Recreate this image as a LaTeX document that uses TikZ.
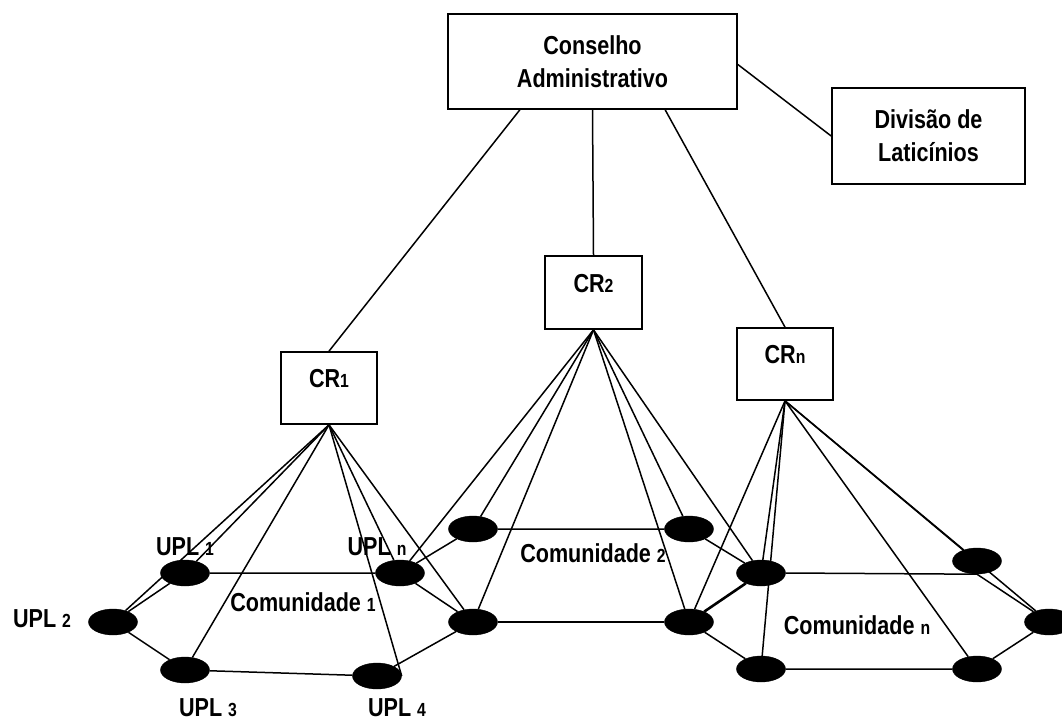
\documentclass[tikz,border=0pt]{standalone}
\usepackage{fontspec}
\setmainfont{Liberation Sans}[FakeStretch=0.83]
\usetikzlibrary{shapes.geometric,calc}
\newcommand\smalldigit[1]{{\fontsize{19}{19}\selectfont #1}}
\begin{document}
\begin{tikzpicture}[x=1pt,y=-1pt,
  box/.style={draw,line width=1.7pt,rectangle,inner sep=0pt},
  upl/.style={ellipse,fill=black,draw=black,minimum width=49pt,minimum height=26pt,inner sep=0pt},
  lnk/.style={line width=1.5pt},
  txt/.style={font=\bfseries\fontsize{26}{33}\selectfont,inner sep=0pt,align=center},
]
\useasboundingbox (0,0) rectangle (1062,722);

% management boxes
\node[box,txt,minimum width=289pt,minimum height=95pt] (cons) at (592.5,61.5) {Conselho\\Administrativo};
\node[box,txt,minimum width=193pt,minimum height=96pt] (div) at (928.5,136) {Divisão de\\Laticínios};
\node[box,minimum width=96pt,minimum height=72pt,label={[txt,yshift=9pt]center:CR\smalldigit{1}}] (cr1) at (329,388) {};
\node[box,minimum width=97pt,minimum height=73pt,label={[txt,yshift=9pt]center:CR\smalldigit{2}}] (cr2) at (593.5,292.5) {};
\node[box,minimum width=96pt,minimum height=72pt,label={[txt,yshift=9pt]center:CR\smalldigit{n}}] (crn) at (785,364) {};

\draw[lnk] ([yshift=-3pt]cons.east) -- (div.west);
\draw[lnk] ($(cons.south west)!0.25!(cons.south east)$) -- (cr1.north);
\draw[lnk] (cons.south) -- (cr2.north);
\draw[lnk] ($(cons.south west)!0.75!(cons.south east)$) -- (crn.north);

% production units
\node[upl] (u1) at (185,573) {};
\node[upl] (u2) at (113,622) {};
\node[upl] (u3) at (185,670) {};
\node[upl] (u4) at (377,676) {};
\node[upl] (un) at (400,573) {};
\node[upl] (r1) at (473,622) {};
\node[upl] (t2l) at (473,529) {};
\node[upl] (t2r) at (689,529) {};
\node[upl] (b2r) at (689,622) {};
\node[upl] (rn) at (761,573) {};
\node[upl] (tnr) at (977,561) {};
\node[upl] (rr) at (1049,622) {};
\node[upl] (bnr) at (977,669) {};
\node[upl] (bnl) at (761,669) {};

% community rings
\draw[lnk] (u1) -- (un) -- (r1) -- (u4) -- (u3) -- (u2) -- (u1);
\draw[lnk] (un) -- (t2l) -- (t2r) -- (rn);
\draw[lnk] (r1) -- (b2r);
\draw[line width=2.6pt] (rn) -- (b2r);
\draw[lnk] (rn.east) -- (tnr.south) -- (rr);
\draw[lnk] (rr) -- (bnr) -- (bnl) -- (b2r);

% regional links
\foreach \t in {u1,u2,u3,un,r1} \draw[lnk] (cr1.south) -- (\t);
\draw[lnk] (cr1.south) -- (u4.east);
\foreach \t in {un,t2l,r1,t2r,b2r,rn} \draw[lnk] (cr2.south) -- (\t);
\foreach \t in {b2r,rn,bnl,tnr,rr,bnr} \draw[lnk] (crn.south) -- (\t);

% labels
\node[txt] (l1) at (185,547) {UPL \smalldigit{1}};
\node[txt] (l2) at (42,619) {UPL \smalldigit{2}};
\node[txt] (l3) at (208,708) {UPL \smalldigit{3}};
\node[txt] (l4) at (397,708) {UPL \smalldigit{4}};
\node[txt] (ln) at (377,547) {UPL \smalldigit{n}};
\node[txt] (c1) at (303,602) {Comunidade \smalldigit{1}};
\node[txt] (c2) at (593,553) {Comunidade \smalldigit{2}};
\node[txt] (cn) at (857,625) {Comunidade \smalldigit{n}};
\end{tikzpicture}
\end{document}
